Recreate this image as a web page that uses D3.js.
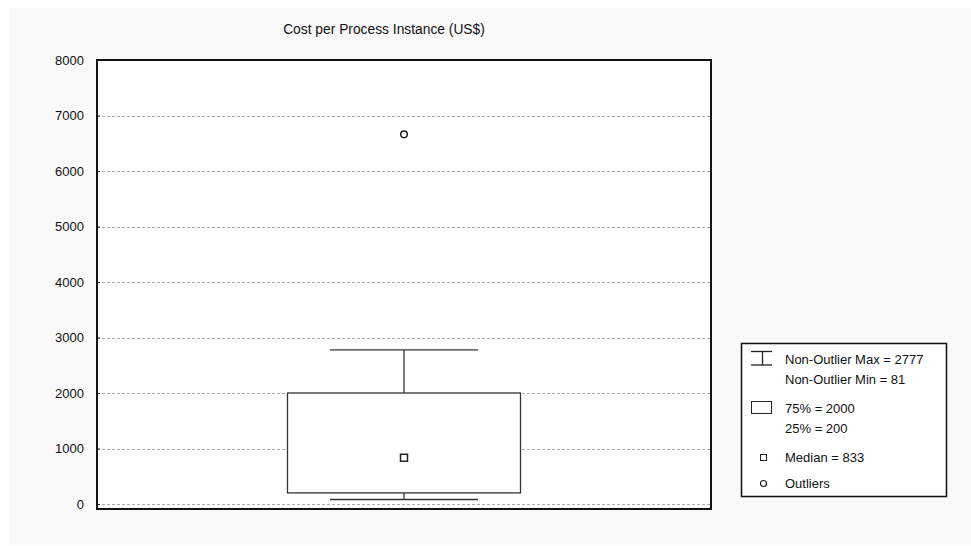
<!DOCTYPE html>
<html>
<head>
<meta charset="utf-8">
<script src="https://cdn.jsdelivr.net/npm/d3@7"></script>
<style>
  body { margin: 0; background: #fff; }
  text { font-family: "Liberation Sans", Arial, sans-serif; fill: #111; }
</style>
</head>
<body>
<svg width="971" height="546"></svg>
<script>
// data
const categories = ["Cost per Process Instance (US$)"];
const boxStats = [{ min: 81, q1: 200, median: 833, q3: 2000, max: 2777 }];
const outliers = [6660];
const yTicks = [0, 1000, 2000, 3000, 4000, 5000, 6000, 7000, 8000];
const legendLabels = ["Non-Outlier Max = 2777", "Non-Outlier Min = 81", "75% = 2000", "25% = 200", "Median = 833", "Outliers"];

const svg = d3.select("svg");

// grey page background
svg.append("rect").attr("x", 9).attr("y", 8).attr("width", 962).attr("height", 537).attr("fill", "#f9f9f9");

const pLeft = 97, pRight = 711, pTop = 60, pBottom = 509;

const y = d3.scaleLinear().domain([-90, 8000]).range([pBottom, pTop]);
const x = d3.scaleBand().domain(categories).range([pLeft, pRight]);

// plot area
svg.append("rect").attr("x", pLeft).attr("y", pTop).attr("width", pRight - pLeft).attr("height", pBottom - pTop).attr("fill", "#fff");

// grid lines
svg.append("g").selectAll("line").data(yTicks).enter().append("line")
  .attr("x1", pLeft).attr("x2", pRight)
  .attr("y1", d => Math.round(y(d)) + 0.5).attr("y2", d => Math.round(y(d)) + 0.5)
  .attr("stroke", "#aaa").attr("stroke-dasharray", "3,2").attr("stroke-width", 1);

// y axis
const yAxis = svg.append("g").attr("transform", "translate(" + pLeft + ",0)")
  .call(d3.axisLeft(y).tickValues(yTicks).tickSize(-3).tickPadding(13).tickFormat(d3.format("d")));
yAxis.select(".domain").remove();
yAxis.selectAll(".tick line").attr("stroke", "#222");
yAxis.selectAll("text").style("font-size", "13px").style("font-family", "Liberation Sans, Arial, sans-serif").attr("fill", "#111");

// frame
svg.append("rect").attr("x", pLeft).attr("y", pTop).attr("width", pRight - pLeft).attr("height", pBottom - pTop)
  .attr("fill", "none").attr("stroke", "#111").attr("stroke-width", 2);

// title
svg.append("text").attr("x", 384).attr("y", 34).attr("text-anchor", "middle")
  .style("font-size", "13.8px").text(categories[0]);

// box plot
const cx = x(categories[0]) + x.bandwidth() / 2;
const boxW = 233, capW = 148;
const g = svg.append("g");
boxStats.forEach(function (s) {
  g.append("line").attr("x1", cx).attr("x2", cx).attr("y1", y(s.max)).attr("y2", y(s.q3)).attr("stroke", "#333").attr("stroke-width", 1.3);
  g.append("line").attr("x1", cx).attr("x2", cx).attr("y1", y(s.q1)).attr("y2", y(s.min)).attr("stroke", "#333").attr("stroke-width", 1.3);
  g.append("line").attr("x1", cx - capW / 2).attr("x2", cx + capW / 2).attr("y1", y(s.max)).attr("y2", y(s.max)).attr("stroke", "#333").attr("stroke-width", 1.3);
  g.append("line").attr("x1", cx - capW / 2).attr("x2", cx + capW / 2).attr("y1", y(s.min)).attr("y2", y(s.min)).attr("stroke", "#333").attr("stroke-width", 1.3);
  g.append("rect").attr("x", cx - boxW / 2).attr("y", y(s.q3)).attr("width", boxW).attr("height", y(s.q1) - y(s.q3))
    .attr("fill", "#fff").attr("stroke", "#333").attr("stroke-width", 1.3);
  g.append("rect").attr("x", cx - 3.5).attr("y", y(s.median) - 3.5).attr("width", 7).attr("height", 7)
    .attr("fill", "#fff").attr("stroke", "#222").attr("stroke-width", 1.5);
});
g.selectAll("circle").data(outliers).enter().append("circle")
  .attr("cx", cx).attr("cy", d => y(d)).attr("r", 3.3)
  .attr("fill", "none").attr("stroke", "#222").attr("stroke-width", 1.5);

// legend
const lg = svg.append("g");
lg.append("rect").attr("x", 741.5).attr("y", 343.5).attr("width", 205).attr("height", 153)
  .attr("fill", "#fff").attr("stroke", "#111").attr("stroke-width", 1.5);
const ty = [359, 379, 408, 428, 457, 483];
legendLabels.forEach(function (t, i) {
  lg.append("text").attr("x", 785).attr("y", ty[i] + 5).style("font-size", "13px").text(t);
});
// whisker icon
lg.append("line").attr("x1", 751).attr("x2", 772).attr("y1", 351.5).attr("y2", 351.5).attr("stroke", "#222").attr("stroke-width", 1.3);
lg.append("line").attr("x1", 762.5).attr("x2", 762.5).attr("y1", 351.5).attr("y2", 365).attr("stroke", "#222").attr("stroke-width", 1.3);
lg.append("line").attr("x1", 751).attr("x2", 772).attr("y1", 365).attr("y2", 365).attr("stroke", "#222").attr("stroke-width", 1.3);
// box icon
lg.append("rect").attr("x", 751.5).attr("y", 401.5).attr("width", 20).attr("height", 12)
  .attr("fill", "#fff").attr("stroke", "#222");
// median icon
lg.append("rect").attr("x", 760.5).attr("y", 454.5).attr("width", 6).attr("height", 6)
  .attr("fill", "#fff").attr("stroke", "#222");
// outlier icon
lg.append("circle").attr("cx", 763.5).attr("cy", 483.5).attr("r", 3)
  .attr("fill", "none").attr("stroke", "#222").attr("stroke-width", 1.2);
</script>
</body>
</html>
